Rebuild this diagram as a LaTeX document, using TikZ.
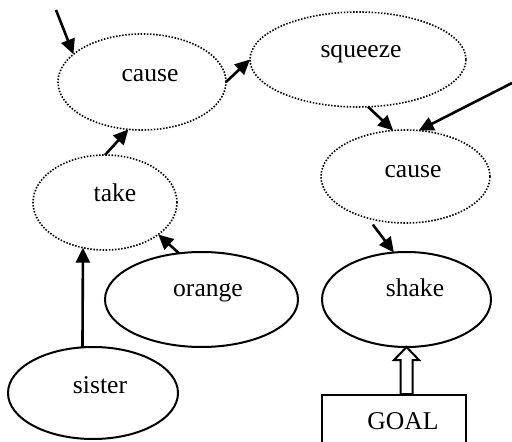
\documentclass[tikz,border=0pt]{standalone}
\usepackage{fontspec}
\setmainfont{Liberation Serif}
\usetikzlibrary{shapes.geometric,arrows.meta,calc}
\begin{document}
\begin{tikzpicture}[x=0.5pt,y=-0.5pt,
  dotell/.style={ellipse,draw,line width=0.8pt,dash pattern=on 0.75pt off 0.8pt,inner sep=0,outer sep=0},
  solell/.style={ellipse,draw,line width=1pt,inner sep=0,outer sep=0},
  word/.style={anchor=base,inner sep=0,font=\fontsize{12.8}{15}\selectfont},
  link/.style={line width=1.3pt,-{Triangle[length=7.5pt,width=7pt]}},
  hollow/.style={draw,fill=white,line width=1pt,line join=miter},
]
\useasboundingbox (0,0) rectangle (512,442);

% concept ellipses (dotted = inferred, solid = given)
\node[dotell,minimum width=84pt,minimum height=48pt] (cause1) at (142,82) {};
\node[dotell,minimum width=108pt,minimum height=47.5pt] (squeeze) at (358,59.5) {};
\node[dotell,minimum width=84.5pt,minimum height=46.5pt] (cause2) at (405.5,176.5) {};
\node[dotell,minimum width=72pt,minimum height=47.5pt] (take) at (105,202.5) {};
\node[solell,minimum width=96.5pt,minimum height=47.5pt] (orange) at (201.5,299.5) {};
\node[solell,minimum width=85pt,minimum height=46pt] (sister) at (93,393) {};
\node[solell,minimum width=84.5pt,minimum height=47.5pt] (shake) at (406.5,299.5) {};
\node[draw,line width=1pt,minimum width=72pt,minimum height=32.5pt,inner sep=0] (goal) at (394,427.5) {};

% labels
\node[word] (t-cause1) at (150,82) {cause};
\node[word] (t-squeeze) at (361,58) {squeeze};
\node[word] (t-cause2) at (413,178) {cause};
\node[word] (t-take) at (115,202) {take};
\node[word] (t-orange) at (208,297) {orange};
\node[word] (t-sister) at (100,393) {sister};
\node[word] (t-shake) at (415,297) {shake};
\node[word] (t-goal) at (403,429) {GOAL};

% free ends of the incoming arrows
\coordinate (in1) at (56,10);
\coordinate (in2) at (512,83);

% connectors
\draw[link] (in1) -- (cause1.158);
\draw[link] (cause1.east) -- (squeeze.west);
\draw[link] (squeeze.-78) -- (cause2.105);
\draw[link] (in2) -- (cause2.74);
\draw[link] (take.north) -- (cause1.-106);
\draw[link] (orange.116) -- (take.-31);
\draw[link] (sister.103) -- (take.-116);
\draw[link,shorten <=4pt] (cause2.-132) -- (shake.105);

% hollow arrow from the goal box up to shake
\coordinate (gtip) at (shake.south);
\coordinate (gbase) at (gtip |- goal.north);
\draw[hollow] (gtip) -- ($(gtip)+(12.5,13)$) -- ($(gtip)+(6,13)$) -- ($(gbase)+(6,0)$)
  -- ($(gbase)+(-6,0)$) -- ($(gtip)+(-6,13)$) -- ($(gtip)+(-12.5,13)$) -- cycle;
\end{tikzpicture}
\end{document}
